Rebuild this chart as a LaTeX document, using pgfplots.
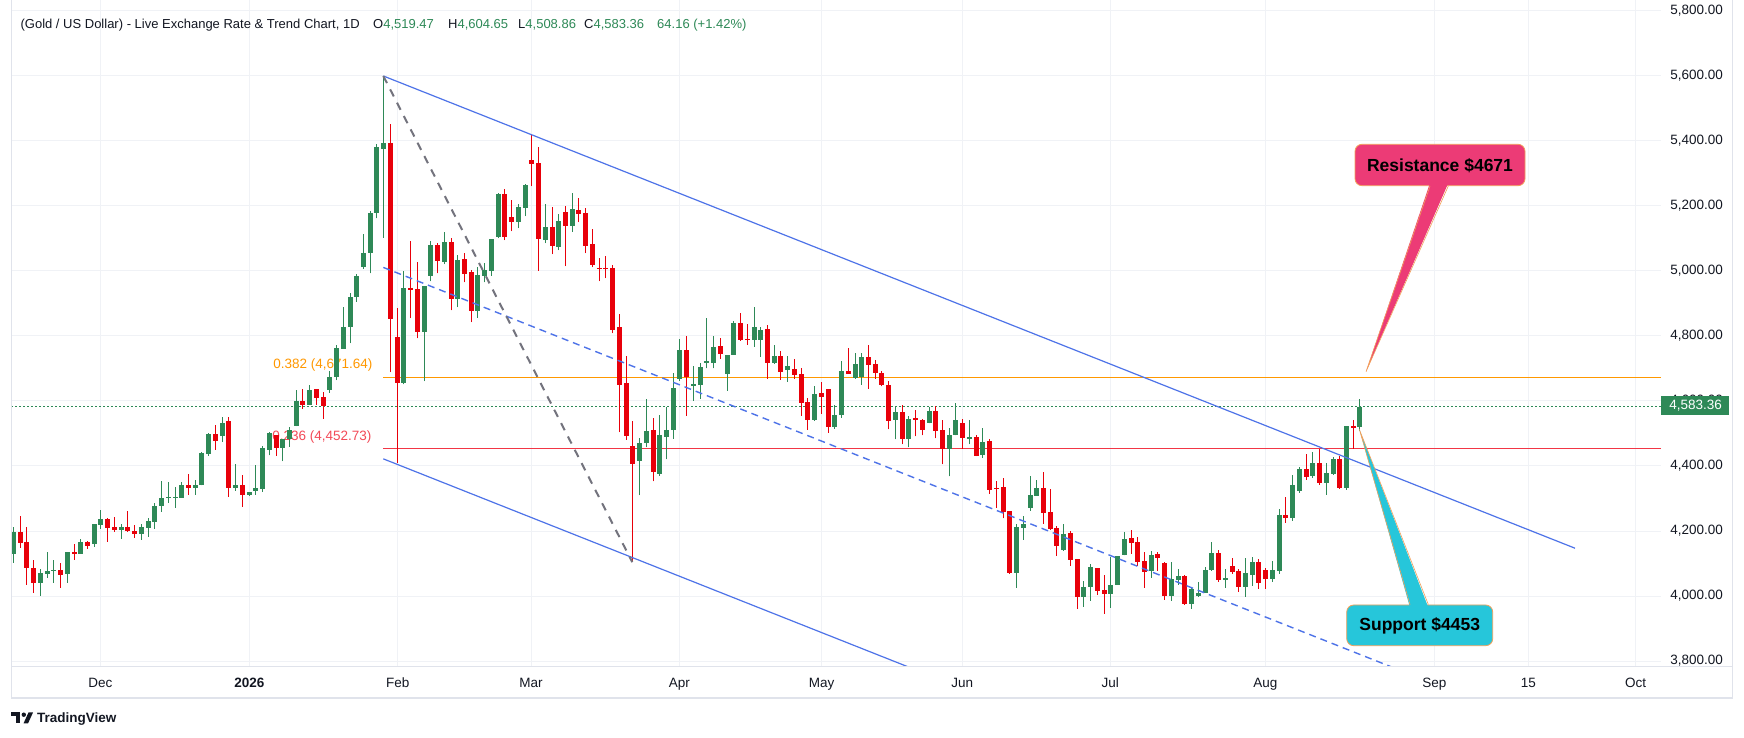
\documentclass[border=0pt]{standalone}
\usepackage{fontspec}
\setmainfont{Liberation Sans}
\usepackage{pgfplots}
\pgfplotsset{compat=1.18}
\usepackage{pgfplotstable}

\definecolor{cup}{RGB}{46,137,87}
\definecolor{cdn}{RGB}{232,0,10}
\definecolor{gridc}{RGB}{240,242,246}
\definecolor{txt}{RGB}{19,23,34}
\definecolor{chan}{RGB}{78,115,232}
\definecolor{fiborange}{RGB}{255,152,0}
\definecolor{fibred}{RGB}{242,54,69}
\definecolor{greyd}{RGB}{115,115,125}
\definecolor{pinkc}{RGB}{236,59,118}
\definecolor{cyanc}{RGB}{38,198,218}
\definecolor{framec}{RGB}{224,227,235}
\definecolor{orangeb}{RGB}{242,160,90}

\pgfplotsset{candle/.style={only marks, mark=none, mark size=0pt, every mark/.append style={draw=none, fill=none}, forget plot}}

\pgfplotstableread{
x o h l c
13.7 4130 4212 4103 4197
40.3 4041 4083 4001 4071
47.3 4069 4135 4056 4077
53.3 4078 4111 4041 4080
67.3 4069 4135 4041 4135
80.3 4130 4175 4130 4166
94.3 4159 4221 4152 4221
100.3 4219 4265 4207 4237
121.3 4204 4222 4176 4213
141.3 4192 4222 4173 4212
148.3 4210 4240 4183 4231
154.3 4229 4286 4207 4277
161.3 4276 4354 4259 4302
168.3 4303 4351 4287 4306
175.3 4303 4335 4272 4306
181.3 4303 4351 4303 4342
195.3 4333 4357 4312 4342
201.3 4340 4443 4340 4440
208.3 4438 4502 4432 4498
222.3 4493 4551 4475 4532
235.3 4333 4406 4324 4342
249.3 4312 4320 4309 4320
255.3 4324 4403 4312 4332
262.3 4330 4460 4320 4455
269.3 4449 4504 4433 4500
282.3 4455 4482 4415 4482
289.3 4482 4521 4459 4512
296.3 4523 4635 4523 4599
309.3 4588 4648 4588 4635
329.3 4633 4692 4625 4675
336.3 4673 4771 4664 4762
343.3 4760 4890 4760 4829
350.3 4827 4931 4778 4921
356.3 4919 4992 4905 4986
363.3 5011 5115 5007 5056
370.3 5054 5185 4993 5179
376.3 5177 5391 5162 5380
383.3 5376 5600 5103 5394
403.3 4655 4999 4651 4949
424.3 4812 4955 4661 4955
430.3 4984 5091 4968 5081
444.3 5027 5121 5021 5089
457.3 4914 5049 4889 5033
477.3 4877 5012 4856 4987
484.3 4985 5024 4965 5002
491.3 5001 5098 4985 5098
498.3 5104 5240 5101 5237
518.3 5151 5206 5132 5197
525.3 5193 5267 5169 5264
545.3 5095 5206 5086 5135
558.3 5073 5175 5064 5153
572.3 5138 5240 5120 5190
639.3 4415 4485 4310 4472
646.3 4472 4605 4457 4509
659.3 4376 4556 4370 4495
666.3 4490 4582 4420 4511
673.3 4512 4686 4484 4640
679.3 4668 4791 4662 4757
693.3 4649 4708 4601 4651
700.3 4649 4717 4607 4705
706.3 4720 4855 4700 4722
713.3 4718 4800 4700 4766
727.3 4684 4742 4632 4742
733.3 4743 4846 4743 4840
754.3 4789 4889 4767 4828
760.3 4789 4828 4736 4818
774.3 4718 4772 4714 4738
787.3 4695 4738 4659 4708
814.3 4542 4646 4539 4622
834.3 4521 4588 4515 4557
841.3 4558 4723 4549 4692
855.3 4672 4748 4669 4714
861.3 4675 4748 4650 4735
895.3 4541 4586 4482 4567
908.3 4482 4555 4457 4546
929.3 4531 4580 4531 4570
949.3 4453 4518 4368 4496
955.3 4494 4595 4494 4540
969.3 4485 4543 4467 4490
982.3 4435 4518 4426 4475
1016.3 4071 4223 4026 4213
1023.3 4210 4247 4173 4223
1030.3 4272 4370 4263 4312
1036.3 4309 4358 4309 4333
1063.3 4143 4223 4140 4192
1083.3 3998 4047 3967 4029
1090.3 4029 4100 3986 4090
1110.3 4007 4121 3964 4035
1117.3 4035 4124 4035 4124
1124.3 4125 4198 4125 4176
1151.3 4078 4140 4056 4127
1171.3 4001 4106 3986 4053
1178.3 4050 4084 4035 4063
1191.3 3976 4026 3961 4023
1198.3 4001 4044 3998 4010
1205.3 4010 4090 4010 4081
1211.3 4081 4167 4078 4133
1225.3 4051 4084 4026 4056
1245.3 4029 4118 3998 4072
1252.3 4066 4121 4032 4106
1272.3 4053 4109 4044 4081
1279.3 4078 4269 4069 4250
1292.3 4239 4373 4232 4343
1299.3 4324 4398 4318 4392
1312.3 4370 4444 4364 4410
1326.3 4349 4410 4312 4380
1333.3 4376 4429 4373 4420
1346.3 4333 4524 4327 4524
1359.3 4519 4605 4509 4583
}\up

\pgfplotstableread{
x o h l c
20.3 4197 4246 4149 4164
26.3 4166 4212 4035 4087
33.3 4086 4111 4010 4041
60.3 4080 4102 4026 4066
74.3 4134 4160 4111 4132
87.3 4166 4169 4146 4155
107.3 4237 4240 4167 4210
114.3 4213 4243 4198 4204
127.3 4212 4262 4198 4201
134.3 4200 4219 4179 4192
188.3 4342 4375 4312 4333
215.3 4498 4526 4450 4478
228.3 4539 4551 4306 4333
242.3 4342 4372 4275 4312
276.3 4496 4496 4431 4455
302.3 4599 4637 4576 4588
316.3 4638 4638 4588 4609
323.3 4611 4627 4545 4584
390.3 5394 5453 4689 4851
397.3 4796 4886 4410 4655
410.3 4949 5093 4855 4941
417.3 4944 5029 4793 4812
437.3 5081 5087 4993 5030
451 5089 5101 4879 4914
464.3 5036 5055 4965 4991
471.3 4996 5002 4843 4877
504.3 5237 5252 5095 5104
511.3 5166 5218 5123 5151
531 5341 5418 5261 5330
538.3 5332 5381 5000 5097
552.3 5135 5197 5052 5076
565.3 5181 5200 5015 5138
578.3 5187 5224 5150 5175
585.3 5178 5193 5055 5076
592.3 5083 5129 5012 5018
599.3 5010 5039 4969 5008
605.3 5010 5046 4978 5008
612.3 5009 5018 4809 4819
619.3 4827 4867 4504 4649
626.3 4654 4738 4480 4492
632.3 4463 4538 4104 4406
653.3 4512 4547 4353 4381
686.3 4757 4800 4554 4675
720.3 4769 4794 4730 4746
740.3 4840 4871 4785 4788
747.3 4791 4837 4773 4789
767.3 4822 4834 4669 4718
780.3 4738 4754 4666 4690
794.3 4698 4729 4669 4681
801.3 4683 4702 4555 4595
807.3 4597 4609 4512 4543
821.3 4625 4658 4561 4613
828.3 4637 4637 4503 4521
848.3 4692 4763 4684 4684
868.3 4735 4772 4638 4711
875.3 4714 4726 4669 4687
881.3 4687 4692 4645 4649
888.3 4650 4660 4513 4537
902.3 4567 4589 4467 4482
915.3 4546 4573 4491 4544
922.3 4543 4546 4494 4510
935.3 4570 4586 4485 4507
942.3 4512 4540 4405 4453
962.3 4533 4546 4453 4485
976.3 4490 4496 4430 4432
989.3 4478 4484 4315 4327
996.3 4333 4355 4272 4331
1003.3 4336 4364 4239 4260
1009.3 4263 4263 4068 4071
1043.3 4333 4383 4223 4256
1050.3 4260 4330 4204 4207
1056.3 4210 4216 4124 4155
1070.3 4195 4201 4093 4112
1077.3 4115 4115 3961 3998
1097.3 4087 4087 4004 4016
1104 4020 4066 3946 4007
1131.3 4180 4204 4130 4164
1137.3 4167 4183 4093 4106
1144.3 4109 4136 4026 4075
1157.3 4128 4136 4078 4118
1164.3 4103 4106 3989 4001
1184.3 4063 4066 3973 3976
1218.3 4133 4143 4044 4050
1232.3 4093 4118 4069 4075
1238.3 4078 4084 4013 4029
1258.3 4106 4115 4023 4041
1265.3 4081 4087 4023 4053
1285.3 4250 4306 4226 4239
1306.3 4392 4438 4358 4367
1319.3 4410 4453 4343 4349
1339.3 4420 4432 4330 4333
1353.3 4524 4543 4453 4519
}\down

\begin{document}
\begin{tikzpicture}
\fill[white] (0pt,0pt) rectangle (1744pt,738pt);
\useasboundingbox (0pt,0pt) rectangle (1744pt,738pt);

\begin{axis}[
  at={(11pt,71.3pt)}, anchor=south west, scale only axis,
  width=1650pt, height=666.7pt,
  xmin=11, xmax=1661, ymin=3782.5, ymax=5833.8,
  axis line style={draw=none},
  major tick length=0pt,
  xtick={100.3,249.3,397.7,531,679.3,821.7,962.3,1110.3,1265.3,1434.3,1528.3,1635.7},
  xticklabels={Dec,\textbf{2026},Feb,Mar,Apr,May,Jun,Jul,Aug,Sep,15,Oct},
  ytick={3800,4000,...,5800},
  yticklabel pos=right,
  grid=major, major grid style={gridc, line width=1pt},
  /pgf/number format/assume math mode=true,
  yticklabel={\pgfmathprintnumber[fixed,fixed zerofill,precision=2,1000 sep={,}]{\tick}},
  ticklabel style={font=\fontsize{13.5}{16}\selectfont, text=txt, inner sep=0pt},
  yticklabel style={anchor=east, xshift=62pt},
  xticklabel style={anchor=base, yshift=-21.3pt},
]
% fib labels
\node[anchor=east, text=fiborange, font=\fontsize{13.5}{16}\selectfont] at (axis cs:376,4710.8) {0.382 (4,671.64)};
\node[anchor=east, text=fibred, opacity=0.9, font=\fontsize{13.5}{16}\selectfont] at (axis cs:375,4490.2) {0.236 (4,452.73)};
% fib lines
\addplot[fiborange, line width=1.2pt, forget plot] coordinates {(383.3,4671.64) (1661,4671.64)};
\addplot[fibred, line width=1.2pt, forget plot] coordinates {(383.3,4452.73) (1661,4452.73)};
% current price line
\addplot[cup, line width=1pt, dash pattern=on 1.5pt off 2.5pt, forget plot] coordinates {(11,4583.36) (1661,4583.36)};
% wicks
\addplot[cup, candle, error bars/.cd, y dir=plus, y explicit, error mark=none, error bar style={line width=1pt, solid, cup}]
  table[x=x, y=l, y error expr=\thisrow{h}-\thisrow{l}] {\up};
\addplot[cdn, candle, error bars/.cd, y dir=plus, y explicit, error mark=none, error bar style={line width=1pt, solid, cdn}]
  table[x=x, y=l, y error expr=\thisrow{h}-\thisrow{l}] {\down};
% bodies
\addplot[cup, candle, error bars/.cd, y dir=both, y explicit, error mark=none, error bar style={line width=5pt, solid, cup}]
  table[x=x, y expr=(\thisrow{o}+\thisrow{c})/2, y error expr={max(abs(\thisrow{c}-\thisrow{o})/2,1.6)}] {\up};
\addplot[cdn, candle, error bars/.cd, y dir=both, y explicit, error mark=none, error bar style={line width=5pt, solid, cdn}]
  table[x=x, y expr=(\thisrow{o}+\thisrow{c})/2, y error expr={max(abs(\thisrow{c}-\thisrow{o})/2,1.6)}] {\down};
% channel
\addplot[chan, line width=1.2pt, forget plot] coordinates {(383.3,5600) (1575,4147)};
\addplot[chan, line width=1.2pt, forget plot] coordinates {(383.3,4422) (1100,3548)};
\addplot[chan, line width=1.4pt, dash pattern=on 7pt off 5pt, forget plot] coordinates {(383.3,5011) (1575,3558)};
\addplot[greyd, line width=2pt, dash pattern=on 8pt off 7pt, forget plot] coordinates {(383.3,5600) (632.3,4104)};
\end{axis}

\begin{scope}[x=1pt, y=-1pt, shift={(0pt,738pt)}]
% frame
\draw[framec, line width=1pt] (11,0) -- (11,698.3);
\draw[framec, line width=1pt] (11,666.7) -- (1732.5,666.7);
\draw[framec, line width=1.2pt] (1732.5,0) -- (1732.5,698.3);
\draw[framec, line width=2pt] (11,698.3) -- (1732.5,698.3);
% header
\node[anchor=base west, inner sep=0pt, text=txt, font=\fontsize{13}{15}\selectfont] at (20.4,29) {(Gold / US Dollar) - Live Exchange Rate \& Trend Chart, 1D};
\node[anchor=base west, inner sep=0pt, font=\fontsize{13}{15}\selectfont] at (373,29) {\textcolor{txt}{O}\textcolor{cup}{4,519.47}};
\node[anchor=base west, inner sep=0pt, font=\fontsize{13}{15}\selectfont] at (448,29) {\textcolor{txt}{H}\textcolor{cup}{4,604.65}};
\node[anchor=base west, inner sep=0pt, font=\fontsize{13}{15}\selectfont] at (518,29) {\textcolor{txt}{L}\textcolor{cup}{4,508.86}};
\node[anchor=base west, inner sep=0pt, font=\fontsize{13}{15}\selectfont] at (584,29) {\textcolor{txt}{C}\textcolor{cup}{4,583.36}};
\node[anchor=base west, inner sep=0pt, text=cup, font=\fontsize{13}{15}\selectfont] at (657,29) {64.16 (+1.42\%)};
% price box
\fill[cup] (1661,396) rectangle (1729,415);
\node[text=white, inner sep=0pt, font=\fontsize{13.5}{16}\selectfont] at (1695.5,405.8) {4,583.36};
% resistance callout
\draw[fill=pinkc, draw=orangeb, line width=0.8pt, rounded corners=7pt] (1355,144.3) rectangle (1525,185.7);
\fill[pinkc] (1430,183) -- (1366,371.7) -- (1448.3,183) -- cycle;
\draw[orangeb, line width=0.6pt] (1430,186) -- (1366,371.7) -- (1448.3,186);
\node[text=black, font=\fontsize{17.5}{20}\selectfont\bfseries] at (1440,165.5) {Resistance \$4671};
% support callout
\draw[fill=cyanc, draw=orangeb, line width=0.8pt, rounded corners=7pt] (1346.7,605) rectangle (1492.7,645.7);
\fill[cyanc] (1410,607.5) -- (1359.3,429.3) -- (1428.3,607.5) -- cycle;
\draw[orangeb, line width=0.6pt] (1410,604.5) -- (1359.3,429.3) -- (1428.3,604.5);
\node[text=black, font=\fontsize{17.5}{20}\selectfont\bfseries] at (1419.7,625.8) {Support \$4453};
% TradingView logo
\fill[txt] (11,712.5) rectangle (20,716.5);
\fill[txt] (15.5,716.5) rectangle (20,723.5);
\fill[txt] (23.8,714.7) circle (2.2pt);
\fill[txt] (28.5,712.5) -- (33,712.5) -- (28,723.5) -- (23.5,723.5) -- cycle;
\node[anchor=base west, inner sep=0pt, text=txt, font=\fontsize{13.5}{16}\selectfont\bfseries] at (37,723) {TradingView};
\end{scope}
\end{tikzpicture}
\end{document}
